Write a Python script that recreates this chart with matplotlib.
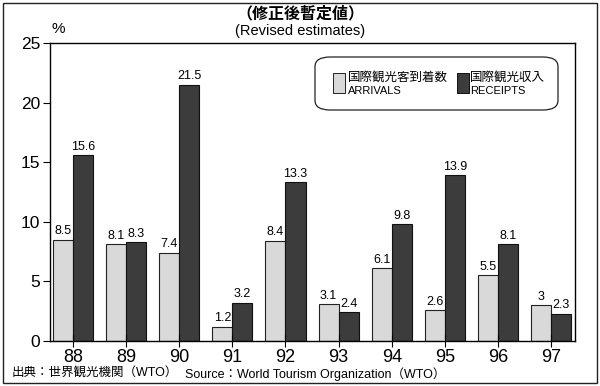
import matplotlib as mpl
mpl.use("Agg")
import matplotlib.pyplot as plt
import numpy as np
from matplotlib.patches import FancyBboxPatch, Rectangle

plt.rcParams["font.family"] = ["Liberation Sans", "Noto Sans CJK JP", "DejaVu Sans"]

YEARS = ["88", "89", "90", "91", "92", "93", "94", "95", "96", "97"]
ARRIVALS = [8.5, 8.1, 7.4, 1.2, 8.4, 3.1, 6.1, 2.6, 5.5, 3]
RECEIPTS = [15.6, 8.3, 21.5, 3.2, 13.3, 2.4, 9.8, 13.9, 8.1, 2.3]
ARR_LABELS = ["8.5", "8.1", "7.4", "1.2", "8.4", "3.1", "6.1", "2.6", "5.5", "3"]
REC_LABELS = ["15.6", "8.3", "21.5", "3.2", "13.3", "2.4", "9.8", "13.9", "8.1", "2.3"]

LIGHT = "#d9d9d9"
DARK = "#3c3c3c"
W = 0.377

fig = plt.figure(figsize=(6.0, 3.86), dpi=100)
ax = fig.add_axes([50 / 600, 1 - 341 / 386, 525 / 600, 298 / 386])

x = np.arange(len(YEARS))
ax.bar(x - W / 2, ARRIVALS, W, color=LIGHT, edgecolor="#222222", linewidth=0.8)
ax.bar(x + W / 2, RECEIPTS, W, color=DARK, edgecolor="#111111", linewidth=0.8)

for xi, v, s in zip(x, ARRIVALS, ARR_LABELS):
    ax.text(xi - W / 2, v + 0.2, s, ha="center", va="bottom", fontsize=9)
for xi, v, s in zip(x, RECEIPTS, REC_LABELS):
    ax.text(xi + W / 2, v + 0.2, s, ha="center", va="bottom", fontsize=9)

ax.set_xlim(-0.433, len(YEARS) - 1 + 0.45)
ax.set_ylim(0, 25)
ax.set_yticks([0, 5, 10, 15, 20, 25])
ax.set_xticks(x)
ax.set_xticklabels(YEARS)
ax.tick_params(axis="y", direction="out", length=5, labelsize=12.5, pad=2)
ax.tick_params(axis="x", direction="inout", length=8, labelsize=13, pad=2)
for sp in ax.spines.values():
    sp.set_linewidth(1.0)

# legend box
box = FancyBboxPatch((315 / 600, 1 - 110 / 386), 243 / 600, 53 / 386,
                     boxstyle="round,pad=0,rounding_size=0.025",
                     transform=fig.transFigure, fill=False, edgecolor="#222222", linewidth=0.9)
fig.patches.append(box)
fig.patches.append(Rectangle((333 / 600, 1 - 93 / 386), 12 / 600, 20 / 386, transform=fig.transFigure,
                             facecolor=LIGHT, edgecolor="#222222", linewidth=0.7))
fig.patches.append(Rectangle((457 / 600, 1 - 93 / 386), 12 / 600, 20 / 386, transform=fig.transFigure,
                             facecolor=DARK, edgecolor="#111111", linewidth=0.7))
fig.text(348 / 600, 1 - 78 / 386, "国際観光客到着数", fontsize=9, va="center")
fig.text(348 / 600, 1 - 91 / 386, "ARRIVALS", fontsize=8, va="center")
fig.text(470 / 600, 1 - 78 / 386, "国際観光収入", fontsize=9, va="center")
fig.text(470 / 600, 1 - 91 / 386, "RECEIPTS", fontsize=8, va="center")

fig.text(0.5, 1 - 14 / 386, "（修正後暫定値）", fontsize=11.5, ha="center", va="center", weight="bold")
fig.text(0.5, 1 - 31 / 386, "(Revised estimates)", fontsize=10.5, ha="center", va="center")
fig.text(51 / 600, 1 - 29 / 386, "%", fontsize=11, va="center")

fig.text(12 / 600, 1 - 374 / 386, "出典：世界観光機関（WTO）", fontsize=9, va="center")
fig.text(185 / 600, 1 - 374 / 386, "Source：World Tourism Organization（WTO）", fontsize=9, va="center")

fig.patches.append(Rectangle((3 / 600, 3 / 386), 594 / 600, 380 / 386, transform=fig.transFigure,
                             fill=False, edgecolor="#222222", linewidth=1.0))

fig.savefig("out.png", dpi=100)
